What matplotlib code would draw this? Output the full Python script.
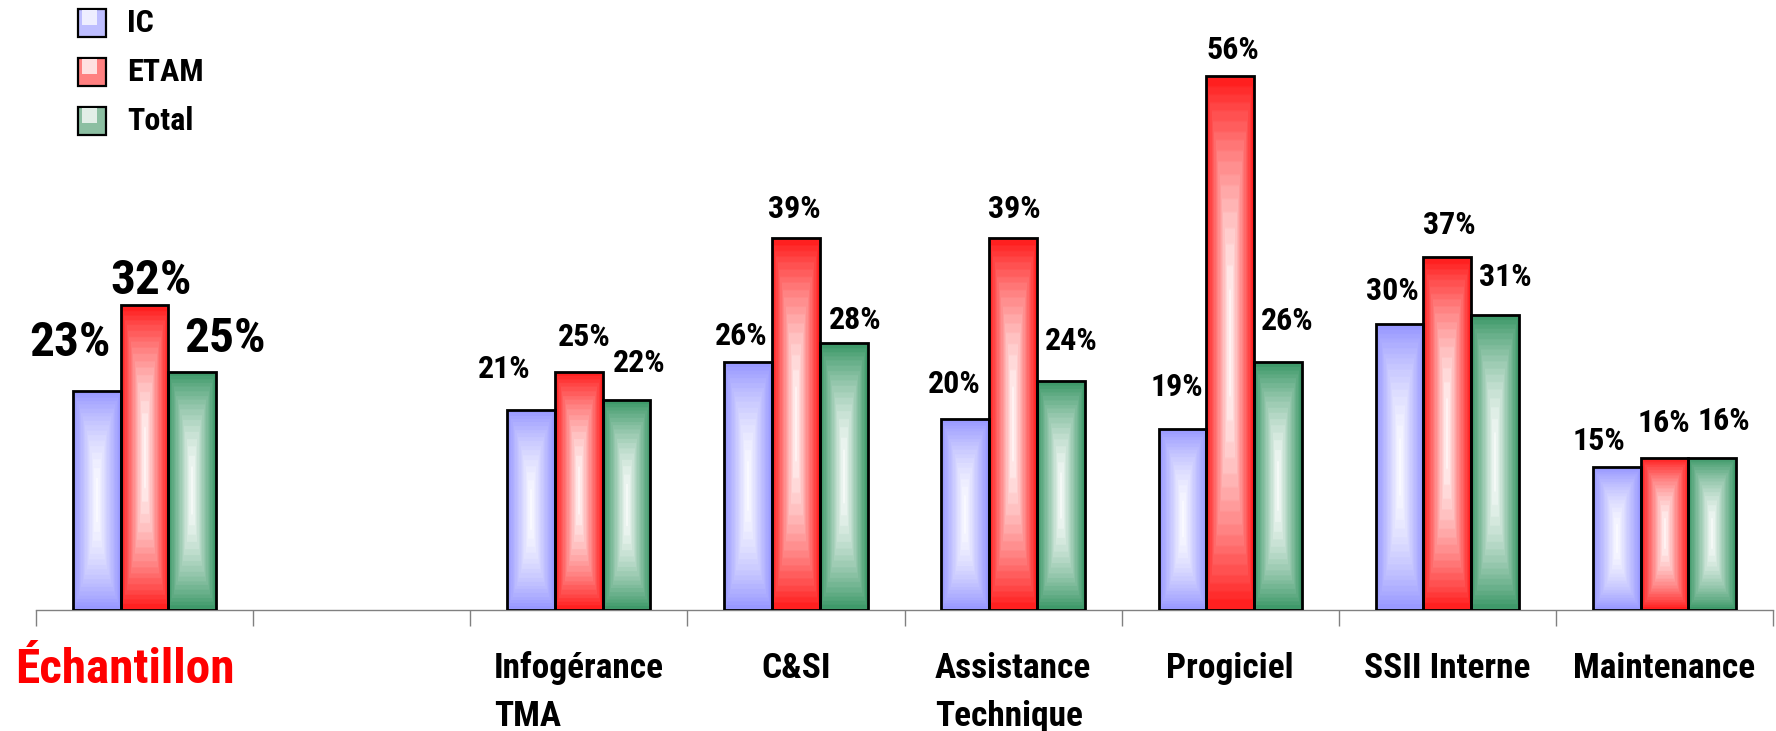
import os
import numpy as np
import matplotlib
matplotlib.use("Agg")
import matplotlib.pyplot as plt
from matplotlib.colors import to_rgb
from matplotlib.patches import Rectangle
from matplotlib import font_manager
from matplotlib.font_manager import FontProperties

# ---- data -------------------------------------------------------------
categories = ["Échantillon", "", "Infogérance\nTMA", "C&SI", "Assistance\nTechnique",
              "Progiciel", "SSII Interne", "Maintenance"]
series_names = ["IC", "ETAM", "Total"]
ic_values = [23, np.nan, 21, 26, 20, 19, 30, 15]
etam_values = [32, np.nan, 25, 39, 39, 56, 37, 16]
total_values = [25, np.nan, 22, 28, 24, 26, 31, 16]

# ---- styling ----------------------------------------------------------
series_values = [ic_values, etam_values, total_values]
series_colors = ["#9999FF", "#FF2020", "#3F9A6A"]
legend_fill = ["#BEBEFF", "#FF8080", "#8CBFA2"]
legend_inner = ["#EEEEFF", "#FFE0E0", "#E2EEE7"]

# label offsets (pixels) relative to the top centre of each bar
label_offsets = [
    [(-27, 48), None, (-27, 41), (-7, 26), (-11, 35), (-6, 42), (-7, 33), (-18, 26)],
    [(6, 24), None, (5, 35), (-2, 29), (1, 29), (3, 26), (2, 32), (-1, 34)],
    [(33, 33), None, (13, 37), (11, 23), (10, 40), (9, 41), (10, 38), (12, 37)],
]


def find_condensed_bold():
    """Look for a bold narrow/condensed sans face among the installed fonts."""
    files = set(font_manager.findSystemFonts())
    files.update(f.fname for f in font_manager.fontManager.ttflist)
    files = sorted(files)
    prefs = ["liberationsansnarrow-bold", "arialnarrow-bold", "arialnb",
             "robotocondensed-bold", "notosans-condensedbold", "notosanscondensed-bold",
             "opensans-condensedbold", "opensans_condensed-bold", "opensanscondensed-bold",
             "dejavusanscondensed-bold"]
    def key(f):
        return os.path.splitext(os.path.basename(f))[0].lower().replace(" ", "")
    for p in prefs:
        for f in files:
            k = key(f)
            if k.startswith(p) and "italic" not in k and "oblique" not in k:
                return f
    for f in files:
        k = key(f)
        if (("narrow" in k or "condensed" in k) and "bold" in k and "semi" not in k
                and "extra" not in k and "italic" not in k and "oblique" not in k):
            return f
    return None


CONDENSED = find_condensed_bold()


def fp(size):
    if CONDENSED:
        return FontProperties(fname=CONDENSED, size=size)
    return FontProperties(family=["Liberation Sans", "DejaVu Sans"], weight="bold",
                          size=size * 0.85)


W, H, DPI = 1776, 731, 100
fig = plt.figure(figsize=(W / DPI, H / DPI), dpi=DPI)
base_y = 610
ax = fig.add_axes([36 / W, (H - base_y) / H, (1773 - 36) / W, base_y / H])


def gradient_image(color, nx=48, ny=200, levels=18):
    c = np.array(to_rgb(color))
    u = np.linspace(-1, 1, nx)
    v = np.linspace(-1, 1, ny)
    U, V = np.meshgrid(u, v)
    t = np.maximum(np.abs(U), np.abs(V) ** 1.8)
    t = np.ceil(t * levels) / levels
    img = 1 - (1 - c)[None, None, :] * t[..., None]
    return np.clip(img, 0, 1)


x = np.arange(len(categories)) + 0.5
width = 0.22
shifts = [-0.22, 0.0, 0.22]

for name, vals, color, shift, offs in zip(series_names, series_values, series_colors,
                                            shifts, label_offsets):
    vals = np.asarray(vals, dtype=float)
    ok = np.isfinite(vals)
    bars = ax.bar(x[ok] + shift, vals[ok], width, facecolor="none", edgecolor="black",
                  linewidth=2.0, zorder=3, label=name)
    img = gradient_image(color)
    for bar in bars:
        x0, y0 = bar.get_x(), bar.get_y()
        w, h = bar.get_width(), bar.get_height()
        im = ax.imshow(img, extent=[x0, x0 + w, y0, y0 + h], origin="lower",
                       aspect="auto", interpolation="bilinear", zorder=2)
        im.set_clip_path(bar)
    for i in np.where(ok)[0]:
        big = i == 0
        ax.annotate(f"{vals[i]:g}%", xy=(x[i] + shift, vals[i]), xytext=offs[i],
                    textcoords="offset pixels", ha="center", va="center",
                    fontproperties=fp(35.5 if big else 23), color="black", zorder=5)

ax.set_xlim(0, len(categories))
ax.set_ylim(0, 64)

# axis styling
for side in ["left", "top", "right"]:
    ax.spines[side].set_visible(False)
ax.spines["bottom"].set_color("#808080")
ax.spines["bottom"].set_linewidth(1.0)
ax.set_xticks(np.arange(len(categories) + 1))
ax.set_xticklabels([])
ax.tick_params(axis="x", direction="out", length=11.5, width=1.0, color="#808080")
ax.set_yticks([])
ax.patch.set_alpha(0)

# category labels under each slot
line_gap = 48
for i, cat in enumerate(categories):
    if not cat:
        continue
    if i == 0:
        ax.annotate(cat, xy=(x[i], 0), xytext=(-20, -73), textcoords="offset pixels",
                    ha="center", va="baseline", fontproperties=fp(35.5),
                    color="#FF0000", annotation_clip=False)
    else:
        nlines = cat.count("\n") + 1
        ax.annotate(cat, xy=(x[i], 0), xytext=(0, -68 - line_gap * (nlines - 1)),
                    textcoords="offset pixels", ha="center", va="baseline",
                    multialignment="left", fontproperties=fp(25.5), color="black",
                    linespacing=1.58, annotation_clip=False)

# legend in the upper-left corner
def fx(px):
    return px / W

def fy(py):
    return 1 - py / H

for k, name in enumerate(series_names):
    yc = 23 + 49 * k
    size = 28
    fig.patches.append(Rectangle((fx(78), fy(yc + size / 2)), fx(size), size / H,
                                 transform=fig.transFigure, facecolor=legend_fill[k],
                                 edgecolor="black", linewidth=1.6, zorder=10))
    fig.patches.append(Rectangle((fx(82), fy(yc + 2)), fx(15), 15 / H,
                                 transform=fig.transFigure, facecolor=legend_inner[k],
                                 edgecolor="none", zorder=11))
    fig.text(fx(127), fy(yc), name, ha="left", va="center", fontproperties=fp(23),
             color="black")

fig.savefig("out.png", dpi=DPI)
